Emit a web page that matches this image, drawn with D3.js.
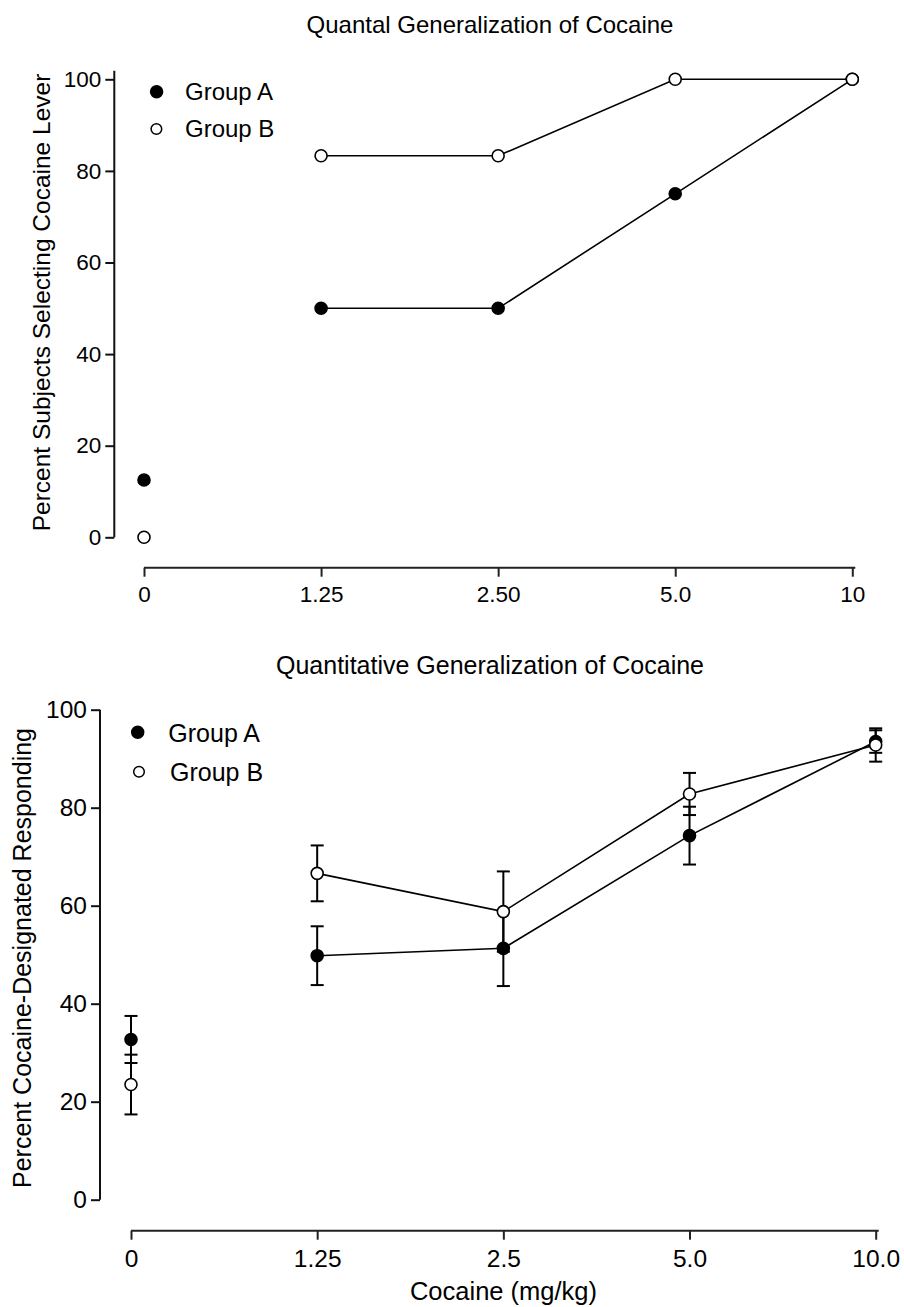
<!DOCTYPE html>
<html><head><meta charset="utf-8">
<script src="https://cdn.jsdelivr.net/npm/d3@7"></script>
<style>
body{margin:0;background:#fff}
text{font-family:"Liberation Sans",Arial,sans-serif;fill:#000}
</style>
</head><body>
<svg id="chart" width="904" height="1307"></svg>
<script>
// ---- data ----
const seriesNames = ["Group A", "Group B"];
const yTicks = [0, 20, 40, 60, 80, 100];

const quantalTitle = "Quantal Generalization of Cocaine";
const quantalYLabel = "Percent Subjects Selecting Cocaine Lever";
const quantalDoses = ["0", "1.25", "2.50", "5.0", "10"];
const quantalGroupA = [12.5, 50, 50, 75, 100];
const quantalGroupB = [0, 83.3, 83.3, 100, 100];

const quantTitle = "Quantitative Generalization of Cocaine";
const quantYLabel = "Percent Cocaine-Designated Responding";
const quantXLabel = "Cocaine (mg/kg)";
const quantDoses = ["0", "1.25", "2.5", "5.0", "10.0"];
const quantGroupA = [32.7, 49.8, 51.3, 74.3, 93.5];
const quantGroupAErr = [4.8, 6.0, 7.7, 5.9, 2.3];
const quantGroupB = [23.5, 66.6, 58.8, 82.8, 92.8];
const quantGroupBErr = [6.1, 5.7, 8.2, 4.3, 3.4];

const svg = d3.select("#chart");

function drawPanel(cfg) {
  const g = svg.append("g");
  const x = d3.scalePoint().domain(cfg.doses).range(cfg.xRange);
  const y = d3.scaleLinear().domain([0, 100]).range(cfg.yRange);

  // title
  g.append("text").attr("x", cfg.titleX).attr("y", cfg.titleY)
    .attr("text-anchor", "middle").style("font-size", cfg.titleSize + "px").text(cfg.title);

  // y axis
  const yAx = g.append("g").attr("transform", `translate(${cfg.yAxisX},0)`)
    .call(d3.axisLeft(y).tickValues(yTicks).tickSize(9).tickPadding(4).tickSizeOuter(0));
  yAx.select(".domain").remove();
  yAx.append("line").attr("x1", 0).attr("x2", 0)
    .attr("y1", y(0)).attr("y2", y(100) - cfg.yAxisExtra)
    .attr("stroke", "#111").attr("stroke-width", 2);
  yAx.selectAll(".tick line").attr("stroke", "#111").attr("stroke-width", 2);
  yAx.selectAll(".tick text").style("font-size", cfg.tickSize + "px")
    .attr("font-family", null).attr("fill", "#000");

  // x axis
  const xAx = g.append("g").attr("transform", `translate(0,${cfg.xAxisY})`)
    .call(d3.axisBottom(x).tickSize(9).tickPadding(cfg.xPad).tickSizeOuter(0));
  xAx.select(".domain").remove();
  xAx.append("line").attr("x1", cfg.xRange[0]).attr("x2", cfg.xRange[1] + 3)
    .attr("y1", 0).attr("y2", 0).attr("stroke", "#222").attr("stroke-width", 2);
  xAx.selectAll(".tick line").attr("stroke", "#222").attr("stroke-width", 2);
  xAx.selectAll(".tick text").style("font-size", cfg.tickSize + "px")
    .attr("font-family", null).attr("fill", "#000");

  // y label
  g.append("text")
    .attr("transform", `translate(${cfg.yLabelX},${cfg.yLabelY}) rotate(-90)`)
    .attr("text-anchor", "middle").style("font-size", cfg.yLabelSize + "px").text(cfg.yLabel);

  if (cfg.xLabel) {
    g.append("text").attr("x", cfg.xLabelX).attr("y", cfg.xLabelY)
      .attr("text-anchor", "middle").style("font-size", cfg.xLabelSize + "px").text(cfg.xLabel);
  }

  const series = cfg.series.map((vals, si) => ({
    name: seriesNames[si],
    filled: si === 0,
    pts: vals.map((v, i) => ({ d: cfg.doses[i], v, e: cfg.errs ? cfg.errs[si][i] : null }))
  }));

  // error bars
  if (cfg.errs) {
    series.forEach(s => {
      const eg = g.append("g").attr("stroke", "#000").attr("stroke-width", 2);
      s.pts.forEach(p => {
        const cx = x(p.d);
        eg.append("line").attr("x1", cx).attr("x2", cx).attr("y1", y(p.v - p.e)).attr("y2", y(p.v + p.e));
        [p.v - p.e, p.v + p.e].forEach(val => {
          eg.append("line").attr("x1", cx - 6.5).attr("x2", cx + 6.5).attr("y1", y(val)).attr("y2", y(val));
        });
      });
    });
  }

  // connecting lines (dose 0 is not connected)
  const line = d3.line().x(p => x(p.d)).y(p => y(p.v));
  series.forEach(s => {
    g.append("path").datum(s.pts.slice(1)).attr("d", line)
      .attr("fill", "none").attr("stroke", "#000").attr("stroke-width", 1.6);
  });

  // markers
  series.forEach(s => {
    g.selectAll(null).data(s.pts).enter().append("circle")
      .attr("cx", p => x(p.d)).attr("cy", p => y(p.v)).attr("r", 6)
      .attr("fill", s.filled ? "#000" : "#fff").attr("stroke", "#000").attr("stroke-width", 1.6);
  });

  // legend
  series.forEach((s, i) => {
    const L = cfg.legend[i];
    g.append("circle").attr("cx", L.cx).attr("cy", L.cy).attr("r", s.filled ? 6 : 5.3)
      .attr("fill", s.filled ? "#000" : "#fff").attr("stroke", "#000").attr("stroke-width", 1.5);
    g.append("text").attr("x", L.tx).attr("y", L.ty).style("font-size", cfg.legendSize + "px").text(s.name);
  });
}

drawPanel({
  title: quantalTitle, titleX: 490, titleY: 32.5, titleSize: 24,
  doses: quantalDoses, series: [quantalGroupA, quantalGroupB], errs: null,
  xRange: [144, 852.3], yRange: [537.3, 79.3],
  yAxisX: 114.3, yAxisExtra: 8.6, xAxisY: 567.7, xPad: 9.5,
  tickSize: 22.5,
  yLabel: quantalYLabel, yLabelX: 50, yLabelY: 302.5, yLabelSize: 24.5,
  legendSize: 24,
  legend: [{cx: 156.6, cy: 91.7, tx: 185, ty: 99.5}, {cx: 156.4, cy: 129, tx: 185, ty: 137}]
});

drawPanel({
  title: quantTitle, titleX: 490, titleY: 673.5, titleSize: 25,
  doses: quantDoses, series: [quantGroupA, quantGroupB], errs: [quantGroupAErr, quantGroupBErr],
  xRange: [131, 875.7], yRange: [1199.7, 709.7],
  yAxisX: 100, yAxisExtra: 0, xAxisY: 1230.7, xPad: 10,
  tickSize: 24.5,
  yLabel: quantYLabel, yLabelX: 30.7, yLabelY: 958, yLabelSize: 25,
  xLabel: quantXLabel, xLabelX: 503.5, xLabelY: 1300, xLabelSize: 25.5,
  legendSize: 25,
  legend: [{cx: 137.7, cy: 732.3, tx: 168.3, ty: 741.7}, {cx: 139, cy: 771.7, tx: 170, ty: 780.5}]
});
</script>
</body></html>
